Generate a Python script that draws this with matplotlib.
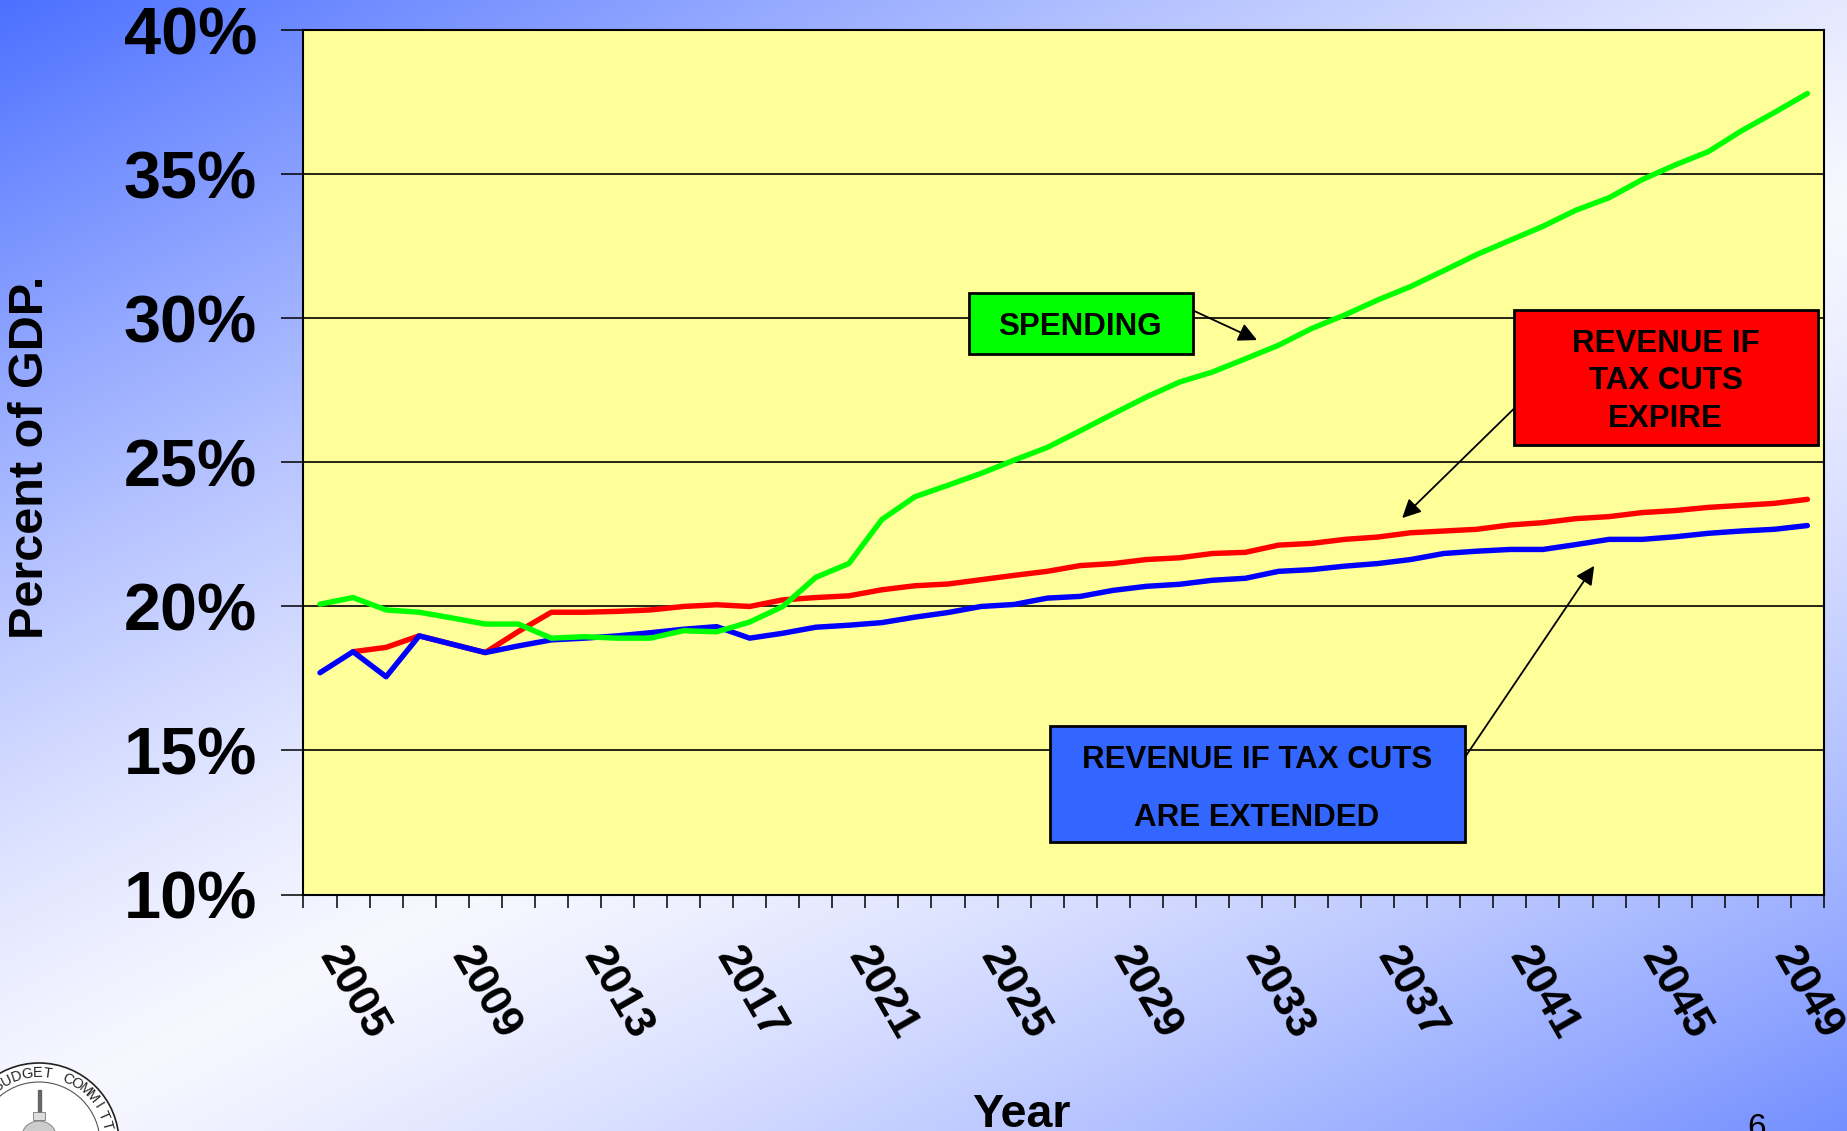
import numpy as np
import matplotlib
matplotlib.use("Agg")
import matplotlib.pyplot as plt
from matplotlib.patches import Rectangle, Circle, Ellipse

plt.rcParams['font.family'] = ['Liberation Sans', 'DejaVu Sans']

# data, % of GDP, 2004-2049
years = list(range(2004, 2050))
spending = [20.08, 20.31, 19.88, 19.80, 19.60, 19.39, 19.39, 18.90, 18.95, 18.90,
            18.90, 19.16, 19.12, 19.46, 20.00, 21.01, 21.49, 23.02, 23.81, 24.21,
            24.62, 25.08, 25.52, 26.10, 26.69, 27.27, 27.79, 28.14, 28.60, 29.07,
            29.65, 30.12, 30.64, 31.11, 31.66, 32.22, 32.71, 33.20, 33.76, 34.19,
            34.82, 35.33, 35.79, 36.51, 37.15, 37.81]
rev_expire = [np.nan, 18.43, 18.58, 18.98, 18.69, 18.40, 19.13, 19.80, 19.80, 19.83,
              19.88, 20.00, 20.06, 20.00, 20.23, 20.31, 20.37, 20.58, 20.72, 20.78,
              20.93, 21.08, 21.22, 21.42, 21.49, 21.63, 21.69, 21.84, 21.88, 22.13,
              22.19, 22.33, 22.41, 22.56, 22.62, 22.68, 22.83, 22.91, 23.05, 23.12,
              23.26, 23.33, 23.44, 23.51, 23.58, 23.72]
rev_extended = [17.70, 18.43, 17.56, 18.98, 18.69, 18.40, 18.63, 18.84, 18.90, 18.98,
                19.09, 19.21, 19.30, 18.90, 19.07, 19.28, 19.35, 19.44, 19.63, 19.79,
                20.00, 20.07, 20.29, 20.35, 20.56, 20.70, 20.77, 20.91, 20.98, 21.22,
                21.28, 21.40, 21.49, 21.63, 21.84, 21.92, 21.98, 21.98, 22.15, 22.33,
                22.33, 22.42, 22.54, 22.62, 22.68, 22.81]
label_years = list(range(2005, 2050, 4))
y_ticks = [10, 15, 20, 25, 30, 35, 40]

W, H = 1847, 1131
fig = plt.figure(figsize=(W / 100, H / 100), dpi=100)

# slide background: blue corners fading to white along the diagonal
bg = fig.add_axes([0, 0, 1, 1], zorder=0)
gx, gy = np.meshgrid(np.linspace(0, 1, 300), np.linspace(0, 1, 200))
t = 0.45 * gx + 0.55 * gy
d = np.clip(np.abs(t - 0.55) / 0.55, 0, 1) ** 1.3
blue = np.array([0.30, 0.44, 1.0])
white = np.array([0.97, 0.97, 1.0])
img = white[None, None, :] * (1 - d[..., None]) + blue[None, None, :] * d[..., None]
bg.imshow(img, extent=(0, W, H, 0), aspect='auto', interpolation='bilinear')
bg.set_xlim(0, W)
bg.set_ylim(H, 0)
bg.axis('off')

# committee seal, bottom-left corner
cx, cy = 39, 1143
bg.add_patch(Circle((cx, cy), 80, facecolor='white', edgecolor='#222222', lw=1.2))
bg.add_patch(Circle((cx, cy), 61, facecolor='white', edgecolor='#555555', lw=0.8))
seal_text = "BUDGET COMMITTEE"
for k, ch in enumerate(seal_text):
    ang = np.deg2rad(125.5 - 8.5 * k)
    bg.text(cx + 70 * np.cos(ang), cy - 70 * np.sin(ang), ch, fontsize=10.5,
            rotation=np.rad2deg(ang) - 90, ha='center', va='center', color='#222222')
bg.add_patch(Rectangle((37.5, 1090), 3, 24, color='#666666'))
bg.add_patch(Rectangle((33, 1112), 12, 8, facecolor='#dddddd', edgecolor='#777777', lw=0.6))
bg.add_patch(Ellipse((cx, 1136), 34, 30, facecolor='#cccccc', edgecolor='#777777', lw=0.6))

ax = fig.add_axes([0.1643, 0.2091, 0.8232, 0.7640], zorder=1)
ax.set_facecolor('#FFFF99')

ax.plot(years, rev_expire, color='#FF0000', lw=3.9, solid_joinstyle='round',
        solid_capstyle='round', zorder=3)
ax.plot(years, rev_extended, color='#0000FF', lw=3.9, solid_joinstyle='round',
        solid_capstyle='round', zorder=4)
ax.plot(years, spending, color='#00FF00', lw=3.9, solid_joinstyle='round',
        solid_capstyle='round', zorder=5)

ax.set_xlim(2003.5, 2049.5)
ax.set_ylim(10, 40)
for v in y_ticks:
    ax.axhline(v, color='black', lw=1.2, zorder=2)

ax.set_yticks(y_ticks)
ax.set_yticklabels([f"{v}%" for v in y_ticks], fontsize=48, fontweight='bold')
ax.tick_params(axis='y', direction='out', length=15.5, width=1.1, pad=18)

ax.set_xticks(label_years)
ax.set_xticklabels([str(y) for y in label_years], fontsize=32, fontweight='bold',
                   rotation=-60, ha='center', va='top')
ax.tick_params(axis='x', which='major', length=0, pad=33)
ax.set_xticks(np.arange(2003.5, 2050, 1), minor=True)
ax.tick_params(axis='x', which='minor', direction='out', length=9.5, width=1.1)

for s in ax.spines.values():
    s.set_linewidth(1.5)
    s.set_color('black')

# callout boxes
box_kw = dict(transform=ax.transAxes, edgecolor='black', lw=2, zorder=6, clip_on=False)
ax.add_patch(Rectangle((0.438, 0.626), 0.147, 0.070, facecolor='#00FF00', **box_kw))
ax.text(0.511, 0.657, "SPENDING", transform=ax.transAxes, ha='center', va='center',
        fontsize=22.5, fontweight='bold', zorder=7)

ax.add_patch(Rectangle((0.796, 0.520), 0.200, 0.156, facecolor='#FF0000', **box_kw))
for txt, yy in zip(["REVENUE IF", "TAX CUTS", "EXPIRE"], [0.637, 0.594, 0.550]):
    ax.text(0.896, yy, txt, transform=ax.transAxes, ha='center', va='center',
            fontsize=22.5, fontweight='bold', zorder=7)

ax.add_patch(Rectangle((0.491, 0.061), 0.273, 0.134, facecolor='#3366FF', **box_kw))
for txt, yy in zip(["REVENUE IF TAX CUTS", "ARE EXTENDED"], [0.156, 0.088]):
    ax.text(0.627, yy, txt, transform=ax.transAxes, ha='center', va='center',
            fontsize=22.5, fontweight='bold', zorder=7)

arrow_kw = dict(arrowstyle='-|>', color='black', lw=1.3, mutation_scale=28,
                shrinkA=0, shrinkB=0)
ax.annotate("", xy=(2032.35, 29.25), xycoords='data', xytext=(0.585, 0.676),
            textcoords='axes fraction', arrowprops=arrow_kw, zorder=6)
ax.annotate("", xy=(2036.74, 23.07), xycoords='data', xytext=(0.796, 0.562),
            textcoords='axes fraction', arrowprops=arrow_kw, zorder=6)
ax.annotate("", xy=(2042.55, 21.41), xycoords='data', xytext=(0.764, 0.159),
            textcoords='axes fraction', arrowprops=arrow_kw, zorder=6)

fig.text(0.0165, 0.596, "Percent of GDP.", rotation=90, ha='center', va='center',
         fontsize=35, fontweight='bold', zorder=2)
fig.text(0.553, 0.0035, "Year", ha='center', va='baseline', fontsize=33.5,
         fontweight='bold', zorder=2)
fig.text(0.951, 1 - 1113 / H, "6", ha='center', va='top', fontsize=24, zorder=2)

fig.savefig("out.png", dpi=100)
